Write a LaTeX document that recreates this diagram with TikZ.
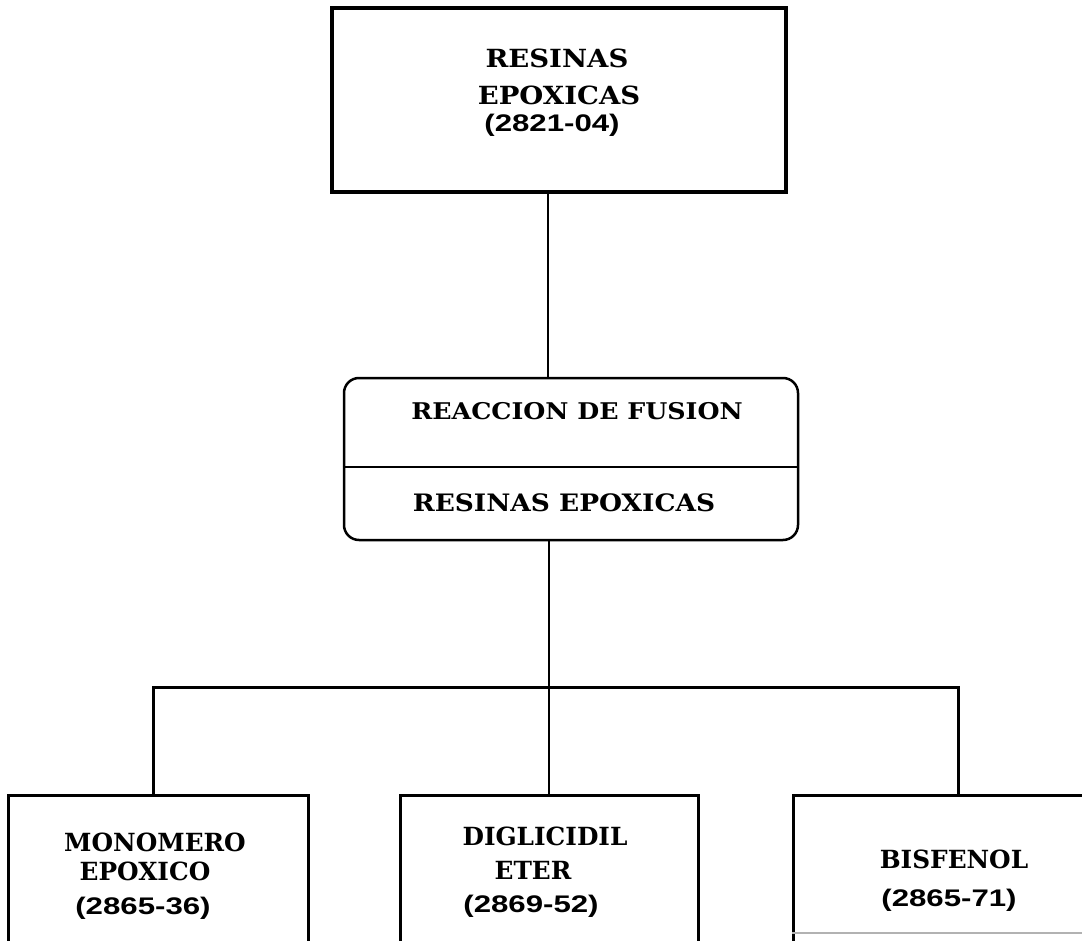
\documentclass[tikz,border=0pt]{standalone}
\usepackage{fontspec}
\setmainfont{DejaVu Serif}[FakeStretch=1.1]
\newfontfamily\narrowfont{DejaVu Serif}[FakeStretch=0.99]
\newfontfamily\numfont{Liberation Sans}[FakeStretch=1.3]
\begin{document}
\begin{tikzpicture}[x=1pt,y=-1pt,
  box/.style={draw, line width=3pt, inner sep=0pt},
  link/.style={line width=2pt},
  busline/.style={line width=3pt},
  lbl/.style={inner sep=0pt, font=\fontsize{25}{25}\selectfont\bfseries},
  proc/.style={inner sep=0pt, font=\fontsize{#1}{#1}\selectfont\bfseries},
  leaf/.style={inner sep=0pt, font=\fontsize{25}{25}\selectfont\narrowfont\bfseries},
  num/.style={inner sep=0pt, font=\fontsize{24}{24}\selectfont\numfont\bfseries},
]
\useasboundingbox (0,0) rectangle (1082,941);
\clip (0,0) rectangle (1082,941);

% top level
\node[box, line width=3.5pt, minimum width=454pt, minimum height=184pt] (top) at (559,100) {};
\node[lbl] (t1) at (557,58) {RESINAS};
\node[lbl] (t2) at (559,95) {EPOXICAS};
\node[num] (t3) at (552,125) {(2821-04)};

% process box
\node[box, line width=2.5pt, rounded corners=15pt, minimum width=454pt, minimum height=162pt] (mid) at (571,459) {};
\coordinate (div) at (0,467);
\draw[line width=2.5pt] (mid.west |- div) -- (mid.east |- div);
\node[proc=23] (m1) at (577,411) {REACCION DE FUSION};
\node[proc=24] (m2) at (564,503) {RESINAS EPOXICAS};

% components
\node[box, minimum width=300pt, minimum height=160pt] (left) at (158,875) {};
\node[leaf] (l1) at (155,842) {MONOMERO};
\node[leaf] (l2) at (145,871) {EPOXICO};
\node[num] (l3) at (143,908) {(2865-36)};

\node[box, minimum width=298pt, minimum height=160pt] (center) at (549,875) {};
\node[leaf] (c1) at (545,836) {DIGLICIDIL};
\node[leaf] (c2) at (533,870) {ETER};
\node[num] (c3) at (531,906) {(2869-52)};

\node[box, minimum width=327pt, minimum height=160pt] (right) at (956.5,875) {};
\node[leaf] (r1) at (954,859) {BISFENOL};
\node[num] (r2) at (949,900) {(2865-71)};
\coordinate (rb) at (1082,933);
\draw[gray!60, line width=1.5pt] (right.west |- rb) -- (rb);

% connectors
\coordinate (trunk) at (548,0);
\coordinate (bus) at (549,687);
\coordinate (busL) at (153,687);
\coordinate (busR) at (958,687);
\draw[link] (top.south -| trunk) -- (mid.north -| trunk);
\draw[link] (mid.south -| bus) -- (bus) -- (center.north -| bus);
\draw[busline] (left.north -| busL) -- (busL) -- (busR) -- (right.north -| busR);
\end{tikzpicture}
\end{document}
